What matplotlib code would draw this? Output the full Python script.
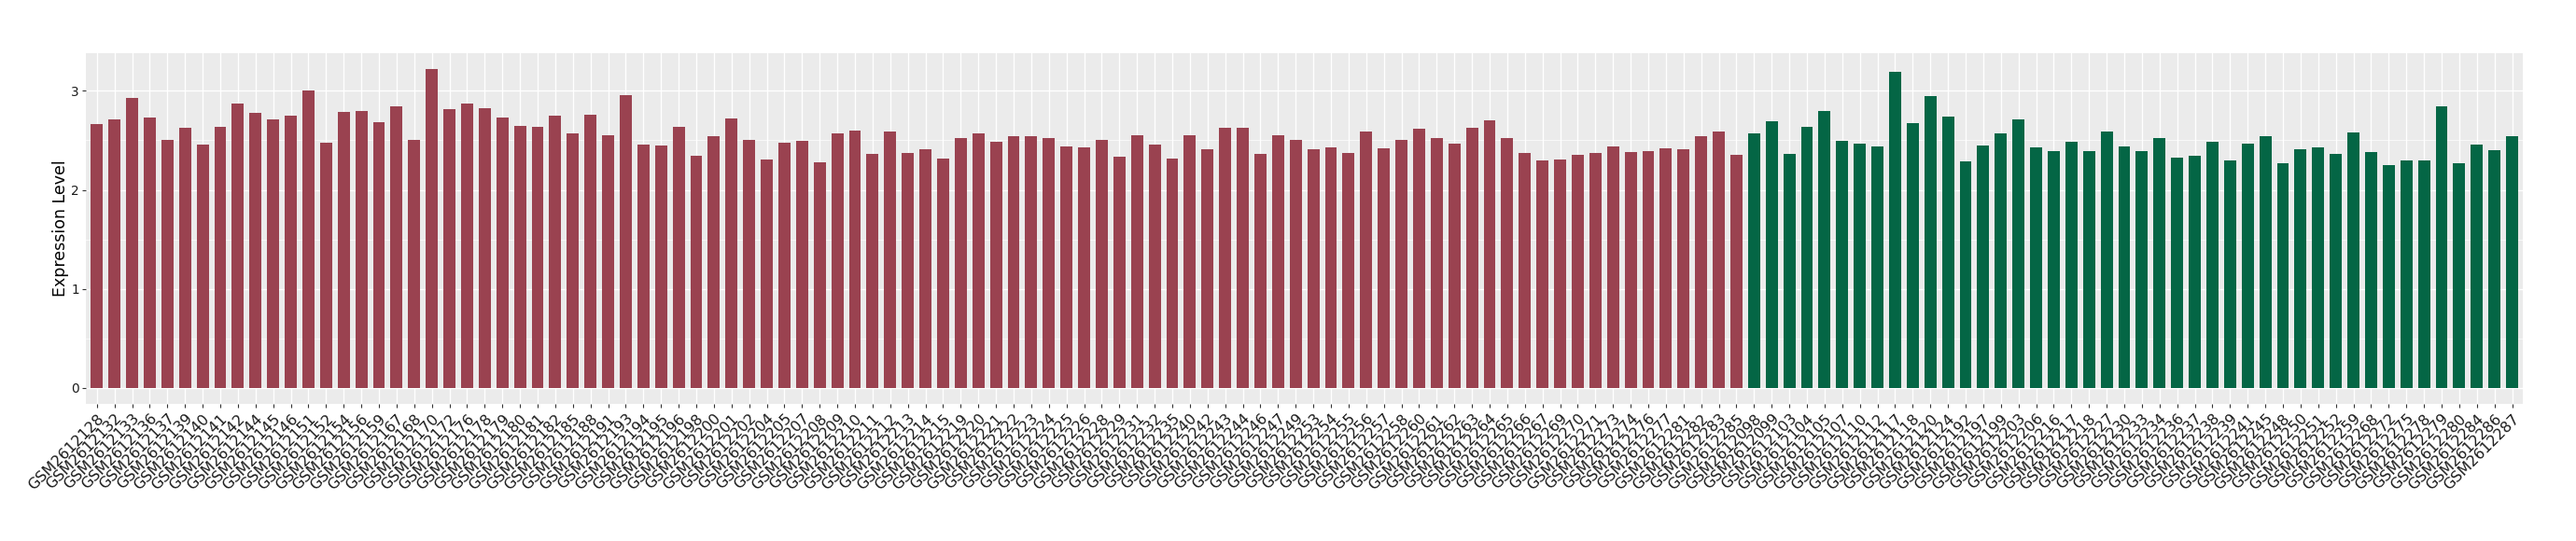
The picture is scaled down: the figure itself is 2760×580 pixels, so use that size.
import numpy as np
import matplotlib
matplotlib.use("Agg")
import matplotlib.pyplot as plt

# =====================================================
# Data
# =====================================================

group_a_samples = [
    "GSM2612128", "GSM2612132", "GSM2612133", "GSM2612136", "GSM2612137",
    "GSM2612139", "GSM2612140", "GSM2612141", "GSM2612142", "GSM2612144",
    "GSM2612145", "GSM2612146", "GSM2612151", "GSM2612152", "GSM2612154",
    "GSM2612156", "GSM2612159", "GSM2612167", "GSM2612168", "GSM2612170",
    "GSM2612172", "GSM2612176", "GSM2612178", "GSM2612179", "GSM2612180",
    "GSM2612181", "GSM2612182", "GSM2612185", "GSM2612188", "GSM2612191",
    "GSM2612193", "GSM2612194", "GSM2612195", "GSM2612196", "GSM2612198",
    "GSM2612200", "GSM2612201", "GSM2612202", "GSM2612204", "GSM2612205",
    "GSM2612207", "GSM2612208", "GSM2612209", "GSM2612210", "GSM2612211",
    "GSM2612212", "GSM2612213", "GSM2612214", "GSM2612215", "GSM2612219",
    "GSM2612220", "GSM2612221", "GSM2612222", "GSM2612223", "GSM2612224",
    "GSM2612225", "GSM2612226", "GSM2612228", "GSM2612229", "GSM2612231",
    "GSM2612232", "GSM2612235", "GSM2612240", "GSM2612242", "GSM2612243",
    "GSM2612244", "GSM2612246", "GSM2612247", "GSM2612249", "GSM2612253",
    "GSM2612254", "GSM2612255", "GSM2612256", "GSM2612257", "GSM2612258",
    "GSM2612260", "GSM2612261", "GSM2612262", "GSM2612263", "GSM2612264",
    "GSM2612265", "GSM2612266", "GSM2612267", "GSM2612269", "GSM2612270",
    "GSM2612271", "GSM2612273", "GSM2612274", "GSM2612276", "GSM2612277",
    "GSM2612281", "GSM2612282", "GSM2612283", "GSM2612285",
]

group_a_values = [
    2.669, 2.716, 2.931, 2.734, 2.500, 2.631, 2.453, 2.641, 2.875, 2.781,
    2.716, 2.753, 3.006, 2.472, 2.791, 2.800, 2.688, 2.847, 2.500, 3.222,
    2.819, 2.875, 2.828, 2.734, 2.650, 2.641, 2.753, 2.575, 2.763, 2.556,
    2.959, 2.453, 2.444, 2.641, 2.341, 2.538, 2.725, 2.509, 2.303, 2.472,
    2.491, 2.275, 2.566, 2.603, 2.359, 2.594, 2.369, 2.406, 2.313, 2.519,
    2.566, 2.481, 2.538, 2.538, 2.528, 2.434, 2.425, 2.500, 2.331, 2.547,
    2.453, 2.313, 2.547, 2.406, 2.631, 2.631, 2.359, 2.556, 2.500, 2.406,
    2.425, 2.369, 2.594, 2.416, 2.500, 2.613, 2.519, 2.463, 2.631, 2.706,
    2.528, 2.369, 2.294, 2.303, 2.350, 2.369, 2.434, 2.378, 2.388, 2.416,
    2.406, 2.538, 2.594, 2.350,
]

group_b_samples = [
    "GSM2612098", "GSM2612099", "GSM2612103", "GSM2612104", "GSM2612105",
    "GSM2612107", "GSM2612110", "GSM2612112", "GSM2612117", "GSM2612118",
    "GSM2612120", "GSM2612124", "GSM2612192", "GSM2612197", "GSM2612199",
    "GSM2612203", "GSM2612206", "GSM2612216", "GSM2612217", "GSM2612218",
    "GSM2612227", "GSM2612230", "GSM2612233", "GSM2612234", "GSM2612236",
    "GSM2612237", "GSM2612238", "GSM2612239", "GSM2612241", "GSM2612245",
    "GSM2612248", "GSM2612250", "GSM2612251", "GSM2612252", "GSM2612259",
    "GSM2612268", "GSM2612272", "GSM2612275", "GSM2612278", "GSM2612279",
    "GSM2612280", "GSM2612284", "GSM2612286", "GSM2612287",
]

group_b_values = [
    2.566, 2.697, 2.359, 2.641, 2.800, 2.491, 2.463, 2.434, 3.194, 2.678,
    2.950, 2.744, 2.284, 2.444, 2.575, 2.716, 2.425, 2.388, 2.481, 2.388,
    2.594, 2.434, 2.388, 2.528, 2.322, 2.341, 2.481, 2.294, 2.463, 2.538,
    2.266, 2.406, 2.425, 2.359, 2.584, 2.378, 2.247, 2.294, 2.294, 2.847,
    2.266, 2.453, 2.397, 2.538,
]

color_a = "#9A4250"
color_b = "#046645"

# =====================================================
# Figure
# =====================================================

plt.rcParams['font.family'] = ['DejaVu Sans']

fig = plt.figure(figsize=(27.6, 5.8), dpi=100)
ax = fig.add_axes([0.0333, 0.254, 0.946, 0.648])

samples = group_a_samples + group_b_samples
values = group_a_values + group_b_values
colors = [color_a]*len(group_a_samples) + [color_b]*len(group_b_samples)

x = np.arange(len(samples))

ax.set_facecolor("#EBEBEB")
ax.set_axisbelow(True)

ax.bar(
    x,
    values,
    width=0.68,
    color=colors,
    zorder=3
)

ax.set_xlim(-0.63, len(samples) - 1 + 0.6)
ax.set_ylim(-0.161, 3.383)

ax.set_yticks([0, 1, 2, 3])
ax.set_yticks([0.5, 1.5, 2.5], minor=True)
ax.set_xticks(x)
ax.set_xticklabels(
    samples,
    rotation=45,
    ha="right",
    va="top",
    rotation_mode="anchor",
    fontsize=11.5,
    color="#1A1A1A"
)

ax.tick_params(axis="y", labelsize=9.8, labelcolor="#1A1A1A",
               length=3, width=0.8, color="#333333", pad=2)
ax.tick_params(axis="y", which="minor", length=0)
ax.tick_params(axis="x", length=3, width=0.8, color="#333333", pad=3)

ax.grid(which="major", color="white", linewidth=1.0)
ax.grid(which="minor", axis="y", color="white", linewidth=0.5)

for s in ax.spines.values():
    s.set_visible(False)

ax.set_ylabel(
    "Expression Level",
    fontsize=12.5,
    color="black",
    labelpad=2
)

plt.savefig("out.png", dpi=100)
plt.close()

print("Saved: out.png")
